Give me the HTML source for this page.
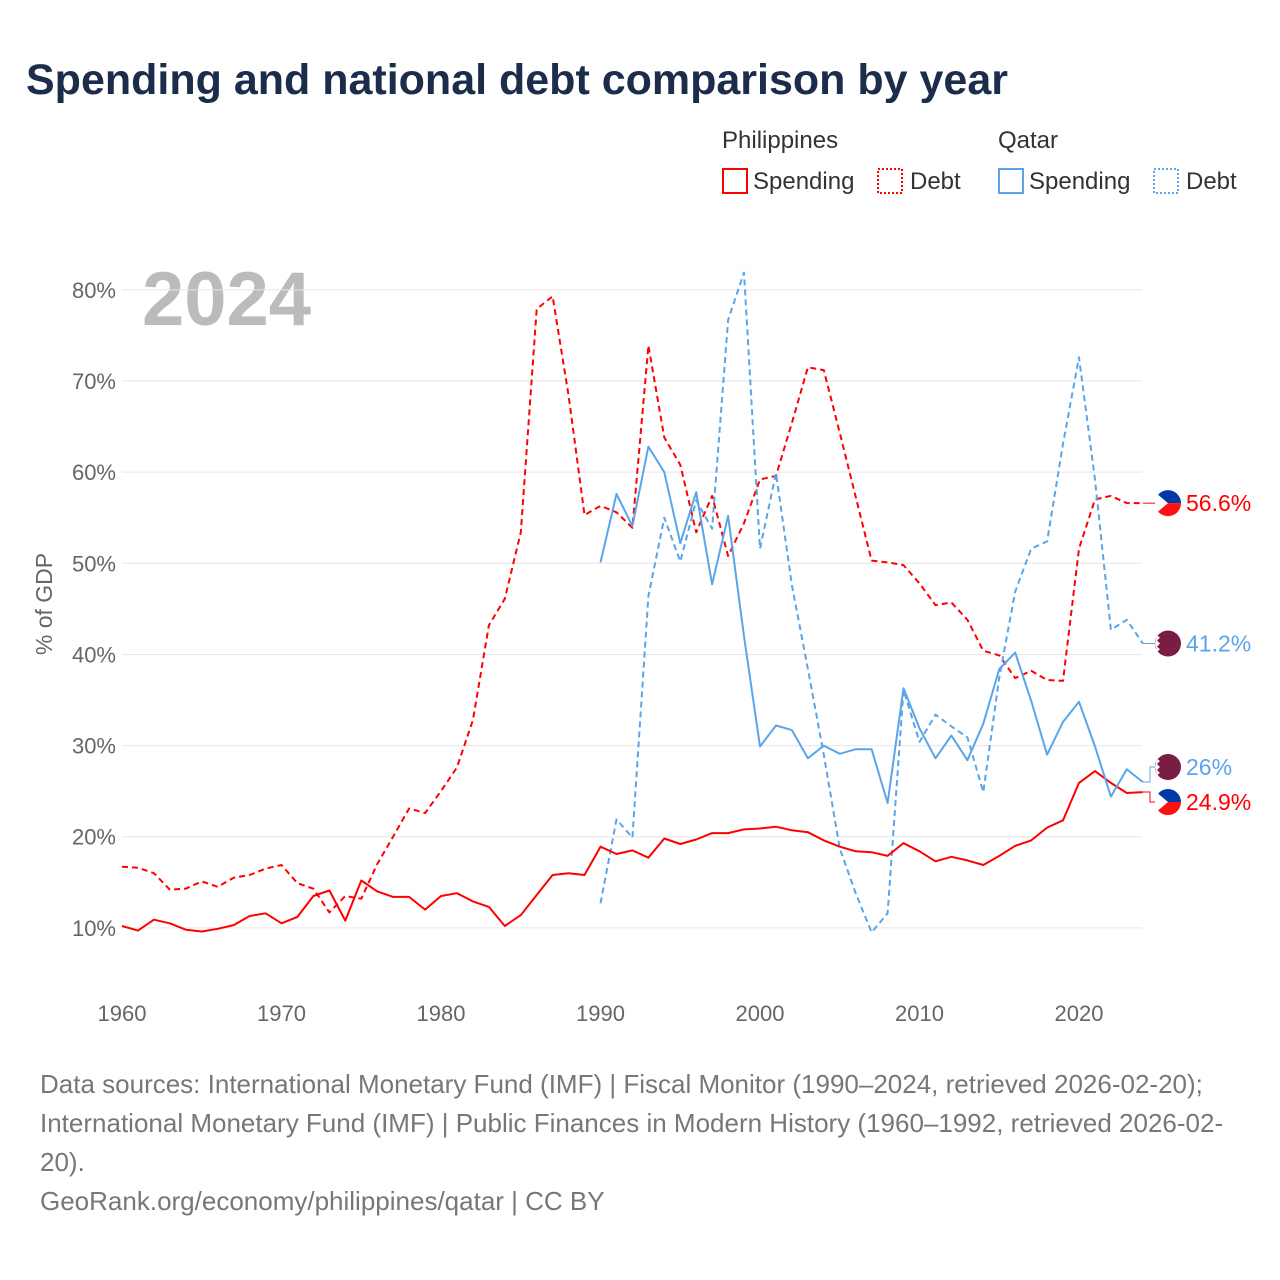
<!DOCTYPE html>
<html><head><meta charset="utf-8"><style>
body{margin:0;background:#fff;font-family:"Liberation Sans",sans-serif;}
#wrap{position:relative;width:1280px;height:1280px;overflow:hidden;}
</style></head><body>
<div id="wrap">
<svg id="chart" width="1280" height="1280" font-family="Liberation Sans, sans-serif">
<text x="26" y="94" font-size="43" font-weight="bold" fill="#1b2d4b">Spending and national debt comparison by year</text>
<g>
<text x="722" y="148" font-size="24" fill="#333">Philippines</text>
<text x="998" y="148" font-size="24" fill="#333">Qatar</text>
<g><rect x="723" y="169" width="24" height="24" fill="none" stroke="#ff0000" stroke-width="2"/><text x="753" y="189" font-size="24" fill="#333">Spending</text></g>
<g><rect x="878" y="169" width="24" height="24" fill="none" stroke="#ff0000" stroke-width="2" stroke-dasharray="2,2"/><text x="910" y="189" font-size="24" fill="#333">Debt</text></g>
<g><rect x="999" y="169" width="24" height="24" fill="none" stroke="#5aa5ea" stroke-width="2"/><text x="1029" y="189" font-size="24" fill="#333">Spending</text></g>
<g><rect x="1154" y="169" width="24" height="24" fill="none" stroke="#5aa5ea" stroke-width="2" stroke-dasharray="2,2"/><text x="1186" y="189" font-size="24" fill="#333">Debt</text></g>
</g>
<text x="142" y="325" font-size="76" font-weight="bold" fill="#bbbbbb">2024</text>
<text transform="translate(52,604) rotate(-90)" text-anchor="middle" font-size="23" fill="#666">% of GDP</text>
<g id="grid"></g><g id="series"></g><g id="ends"></g>
<g font-size="26" fill="#777">
<text x="40" y="1093">Data sources: International Monetary Fund (IMF) | Fiscal Monitor (1990–2024, retrieved 2026-02-20);</text>
<text x="40" y="1132">International Monetary Fund (IMF) | Public Finances in Modern History (1960–1992, retrieved 2026-02-</text>
<text x="40" y="1171">20).</text>
<text x="40" y="1210">GeoRank.org/economy/philippines/qatar | CC BY</text>
</g>
</svg>
</div>
<script>
const yTicks=[10,20,30,40,50,60,70,80];
const xTicks=[1960,1970,1980,1990,2000,2010,2020];
const phSpending=[10.2,9.7,10.9,10.5,9.8,9.6,9.9,10.3,11.3,11.6,10.5,11.2,13.5,14.1,10.8,15.2,14.0,13.4,13.4,12.0,13.5,13.8,12.9,12.3,10.2,11.4,13.6,15.8,16.0,15.8,18.9,18.1,18.5,17.7,19.8,19.2,19.7,20.4,20.4,20.8,20.9,21.1,20.7,20.5,19.6,18.9,18.4,18.3,17.9,19.3,18.4,17.3,17.8,17.4,16.9,17.9,19.0,19.6,21.0,21.8,25.9,27.2,25.9,24.8,24.9];
const phDebt=[16.7,16.6,16.0,14.2,14.3,15.1,14.5,15.5,15.8,16.5,16.9,14.9,14.3,11.7,13.5,13.2,17.0,20.0,23.1,22.6,25.0,27.6,32.8,43.2,46.1,53.4,77.9,79.3,68.4,55.3,56.3,55.6,53.9,73.9,63.8,60.8,53.4,57.4,50.8,54.4,59.2,59.6,65.4,71.5,71.2,64.3,57.3,50.3,50.1,49.8,47.8,45.4,45.7,43.8,40.4,39.9,37.4,38.2,37.2,37.1,51.6,57.0,57.4,56.6,56.6];
const qaSpending=[50.1,57.6,54.1,62.8,60.0,52.2,57.8,47.7,55.2,42.0,29.9,32.2,31.7,28.6,30.0,29.1,29.6,29.6,23.7,36.3,31.9,28.6,31.1,28.4,32.4,38.4,40.2,34.9,29.0,32.6,34.8,29.9,24.4,27.4,26.0];
const qaDebt=[12.7,21.9,19.9,46.4,55.0,50.2,56.9,53.8,76.7,81.9,51.6,59.9,47.6,38.4,29.0,18.7,13.8,9.5,11.6,36.1,30.4,33.4,32.1,30.9,24.9,37.5,46.9,51.6,52.4,63.1,72.6,59.2,42.7,43.8,41.2];
const x=yr=>122+(yr-1960)*(1079-122)/60;
const y=v=>1019-v*9.114;
const NS="http://www.w3.org/2000/svg";
function mk(tag,attrs,parent){const e=document.createElementNS(NS,tag);for(const k in attrs)e.setAttribute(k,attrs[k]);parent.appendChild(e);return e;}
const grid=document.getElementById('grid');
yTicks.forEach(t=>{
 const l=mk('line',{x1:122,x2:1142,y1:y(t),y2:y(t),stroke:'#e6e6e6','stroke-width':1},grid);
 
 
 const tx=mk('text',{x:116,y:y(t)+8,'text-anchor':'end','font-size':22,fill:'#666'},grid);
 tx.textContent=t+'%';
 
 
});
xTicks.forEach(t=>{
 const tx=mk('text',{x:x(t),y:1021,'text-anchor':'middle','font-size':22,fill:'#666'},grid);
 tx.textContent=t;
 
 
});
const series=document.getElementById('series');
function line(arr,start,color,dash,name){
 const pts=arr.map((v,i)=>x(start+i).toFixed(1)+','+y(v).toFixed(1)).join(' ');
 const p=mk('polyline',{points:pts,fill:'none',stroke:color,'stroke-width':2,'stroke-linejoin':'round'},series);
 if(dash)p.setAttribute('stroke-dasharray',dash);
 
 
}
line(phDebt,1960,'#ff0000','6,4','line-philippines-debt');
line(qaDebt,1990,'#5aa5ea','6,4','line-qatar-debt');
line(phSpending,1960,'#ff0000',null,'line-philippines-spending');
line(qaSpending,1990,'#5aa5ea',null,'line-qatar-spending');
const ends=document.getElementById('ends');
const endItems=[
 {v:phDebt[phDebt.length-1],c:'#ff0000',flag:'ph',off:0,name:'end-label-ph-debt'},
 {v:qaDebt[qaDebt.length-1],c:'#5aa5ea',flag:'qa',off:0,name:'end-label-qa-debt'},
 {v:qaSpending[qaSpending.length-1],c:'#5aa5ea',flag:'qa',off:-15,name:'end-label-qa-spending'},
 {v:phSpending[phSpending.length-1],c:'#ff0000',flag:'ph',off:10,name:'end-label-ph-spending'}];
endItems.forEach(it=>{
 const yy=y(it.v)+it.off;
 const g=mk('g',{},ends);
 
 
 mk('polyline',{points:`1143,${y(it.v)} 1150,${y(it.v)} 1150,${yy} 1155,${yy}`,fill:'none',stroke:it.c,'stroke-width':1},g);
 if(it.flag==='ph'){
  mk('path',{d:`M1155,${yy} a13,13 0 0 1 26,0 z`,fill:'#0038a8'},g);
  mk('path',{d:`M1155,${yy} a13,13 0 0 0 26,0 z`,fill:'#ff1010'},g);
  mk('path',{d:`M1155,${yy-11} L1168,${yy} L1155,${yy+11} z`,fill:'#fff'},g);
 } else {
  mk('circle',{cx:1168,cy:yy,r:13,fill:'#7a1d44'},g);
  mk('path',{d:`M1157,${yy-8} L1160,${yy-6} L1157,${yy-3} L1160,${yy} L1157,${yy+3} L1160,${yy+6} L1157,${yy+8} L1155,${yy} z`,fill:'#fff'},g);
 }
 const t=mk('text',{x:1186,y:yy+8,'font-size':23,fill:it.c},g);
 t.textContent=(Math.round(it.v*10)/10)+'%';
});
</script>
</body></html>
